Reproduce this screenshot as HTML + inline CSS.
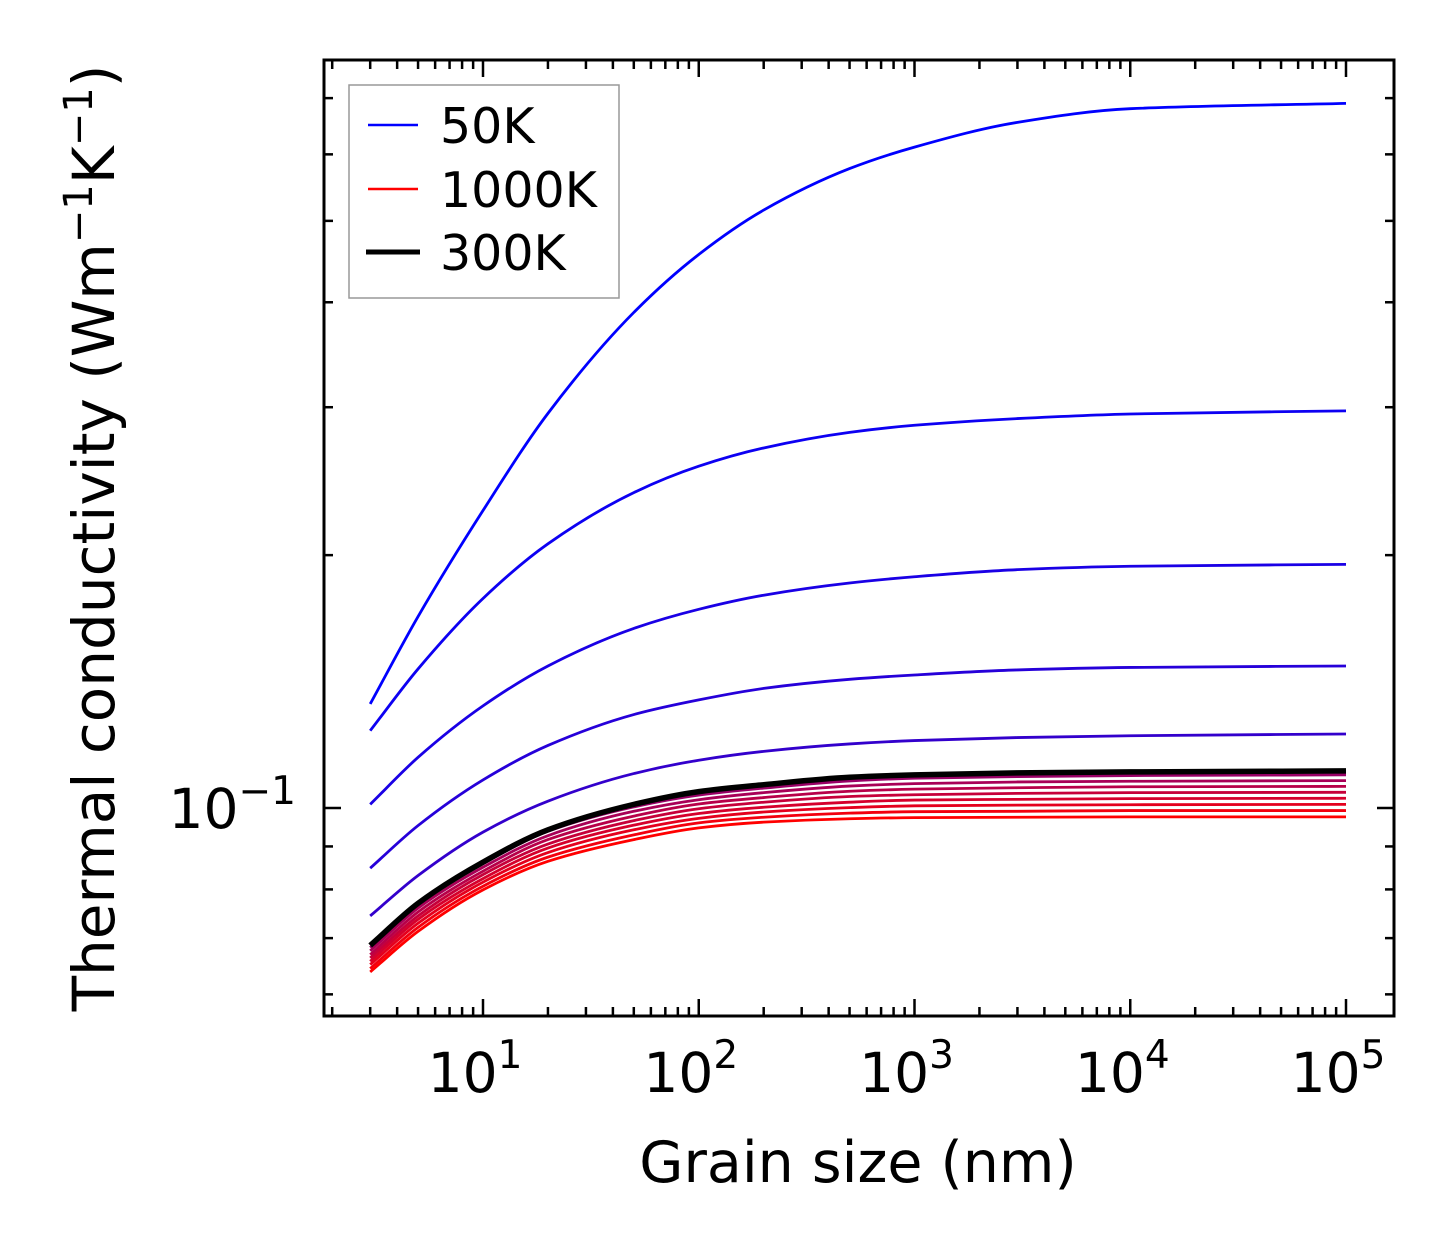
<!DOCTYPE html>
<html><head><meta charset="utf-8"><style>
body{margin:0;background:#fff;}
svg{display:block;font-family:"DejaVu Sans","Liberation Sans",sans-serif;}
</style></head><body>
<svg id="chart" width="1454" height="1254" viewBox="0 0 1454 1254">
<g id="lines"></g>
<g id="axes"></g>
<g id="legend">
<rect x="349" y="85" width="270" height="213" fill="#fff" stroke="#999" stroke-width="1.5"/>
<line x1="368" y1="125" x2="418" y2="125" stroke="#0000ff" stroke-width="2.5"/>
<text x="440" y="143" font-size="49">50K</text>
<line x1="368" y1="189" x2="418" y2="189" stroke="#ff0000" stroke-width="2.5"/>
<text x="440" y="207" font-size="49">1000K</text>
<line x1="366" y1="252" x2="420" y2="252" stroke="#000" stroke-width="5"/>
<text x="440" y="270" font-size="49">300K</text>
</g>
<text x="858" y="1182" font-size="57" text-anchor="middle">Grain size (nm)</text>
<text transform="translate(114,538) rotate(-90)" font-size="58" text-anchor="middle">Thermal conductivity (Wm<tspan dy="-22" font-size="40">−1</tspan><tspan dy="22">K</tspan><tspan dy="-22" font-size="40">−1</tspan><tspan dy="22">)</tspan></text>
</svg>
<script>
const grainSizes=[3,5,10,20,50,100,200,500,1000,3000,10000,100000];
const blue1=[0.133,0.169,0.226,0.295,0.389,0.456,0.515,0.577,0.612,0.655,0.680,0.690];
const blue2=[0.1236,0.1464,0.1776,0.2063,0.2374,0.2552,0.2683,0.2800,0.2855,0.2908,0.2945,0.297];
const blue3=[0.101,0.1149,0.1323,0.1476,0.1636,0.1724,0.1792,0.1853,0.1885,0.1922,0.1940,0.195];
const blue4=[0.0848,0.0953,0.1080,0.1187,0.1292,0.1345,0.1388,0.1423,0.1440,0.1460,0.1470,0.1476];
const blue5=[0.0744,0.0831,0.0936,0.1019,0.1099,0.1140,0.1168,0.1192,0.1203,0.1213,0.1219,0.1225];
const blueSeries=[blue1,blue2,blue3,blue4,blue5];
const blueColors=["#0000ff","#0d00f2","#1a00e5","#2600d9","#3300cc"];
const red0=[0.0682,0.0768,0.0858,0.0938,0.1003,0.1036,0.1056,0.1077,0.1085,0.1090,0.1093,0.1095];
const red1=[0.0676,0.0760,0.0850,0.0927,0.0991,0.1023,0.1043,0.1062,0.1069,0.1074,0.1076,0.1078];
const red2=[0.0669,0.0752,0.0841,0.0917,0.0978,0.1011,0.1029,0.1047,0.1053,0.1057,0.1060,0.1061];
const red3=[0.0663,0.0744,0.0833,0.0906,0.0966,0.0998,0.1016,0.1032,0.1037,0.1041,0.1043,0.1044];
const red4=[0.0657,0.0737,0.0824,0.0896,0.0954,0.0985,0.1002,0.1016,0.1022,0.1024,0.1026,0.1027];
const red5=[0.0651,0.0729,0.0816,0.0885,0.0942,0.0972,0.0989,0.1001,0.1006,0.1008,0.1009,0.1010];
const red6=[0.0644,0.0721,0.0807,0.0874,0.0929,0.0960,0.0975,0.0986,0.0990,0.0991,0.0993,0.0993];
const red7=[0.0638,0.0713,0.0799,0.0864,0.0917,0.0947,0.0962,0.0971,0.0974,0.0975,0.0976,0.0976];
const redSeries=[red0,red1,red2,red3,red4,red5,red6,red7];
const redColors=["#990066","#a80057","#b70049","#c6003a","#d5002c","#e4001d","#f2000e","#ff0000"];
const blackSeries=[0.0686,0.0770,0.0862,0.0942,0.1010,0.1046,0.1066,0.1088,0.1095,0.1101,0.1104,0.1107];
const xTickLabels=["1","2","3","4","5"];

const L=324,R=1394,T=60,B=1016;
const X=v=>483+(Math.log10(v)-1)*215.75;
const Y=v=>808-(Math.log10(v)+1)*840;
const NS="http://www.w3.org/2000/svg";
function mk(tag,attrs,parent){const e=document.createElementNS(NS,tag);for(const k in attrs)e.setAttribute(k,attrs[k]);parent.appendChild(e);return e;}
function pathFor(vals){
 const xs=grainSizes.map(X), ys=vals.map(Y), n=xs.length;
 const d=[],m=new Array(n);
 for(let i=0;i<n-1;i++)d.push((ys[i+1]-ys[i])/(xs[i+1]-xs[i]));
 m[0]=d[0];m[n-1]=d[n-2];
 for(let i=1;i<n-1;i++){
  if(d[i-1]*d[i]<=0){m[i]=0;continue;}
  const h0=xs[i]-xs[i-1],h1=xs[i+1]-xs[i];
  const w1=2*h1+h0,w2=h1+2*h0;
  m[i]=(w1+w2)/(w1/d[i-1]+w2/d[i]);
 }
 let p="M"+xs[0]+","+ys[0];
 for(let i=0;i<n-1;i++){
  const h=xs[i+1]-xs[i];
  p+=` C${xs[i]+h/3},${ys[i]+m[i]*h/3} ${xs[i+1]-h/3},${ys[i+1]-m[i+1]*h/3} ${xs[i+1]},${ys[i+1]}`;
 }
 return p;
}
const lg=document.getElementById("lines");
blueSeries.forEach((s,i)=>{
 const e=mk("path",{d:pathFor(s),fill:"none",stroke:blueColors[i],"stroke-width":2.8},lg);
 
 
});
redSeries.forEach((s,i)=>{
 const e=mk("path",{d:pathFor(s),fill:"none",stroke:redColors[i],"stroke-width":2.8},lg);
 
 
});
const bl=mk("path",{d:pathFor(blackSeries),fill:"none",stroke:"#000","stroke-width":5.5},lg);



const ax=document.getElementById("axes");
const frame=mk("rect",{x:L,y:T,width:R-L,height:B-T,fill:"none",stroke:"#000","stroke-width":3},ax);


for(let dec=0;dec<=5;dec++){
 for(let m=1;m<10;m++){
  const v=m*Math.pow(10,dec);const x=X(v);
  if(x<L||x>R)continue;
  const len=m===1?17:9;
  mk("line",{x1:x,y1:B,x2:x,y2:B-len,stroke:"#000","stroke-width":2.5},ax);
  mk("line",{x1:x,y1:T,x2:x,y2:T+len,stroke:"#000","stroke-width":2.5},ax);
 }
}
xTickLabels.forEach(p=>{
 const x=X(Math.pow(10,+p));
 const t=mk("text",{x:x-8,y:1092,"font-size":55,"text-anchor":"middle"},ax);
 
 
 t.textContent="10";
 const s=mk("tspan",{dy:-24,"font-size":39},t);s.textContent=p;
});
[0.06,0.07,0.08,0.09,0.1,0.2,0.3,0.4,0.5,0.6,0.7].forEach(v=>{
 const y=Y(v);const len=v===0.1?17:9;
 mk("line",{x1:L,y1:y,x2:L+len,y2:y,stroke:"#000","stroke-width":2.5},ax);
 mk("line",{x1:R,y1:y,x2:R-len,y2:y,stroke:"#000","stroke-width":2.5},ax);
});
const yl=mk("text",{x:296,y:Y(0.1)+20,"font-size":55,"text-anchor":"end"},ax);


yl.textContent="10";
const ys=mk("tspan",{dy:-24,"font-size":39},yl);ys.textContent="−1";
</script>
</body></html>
